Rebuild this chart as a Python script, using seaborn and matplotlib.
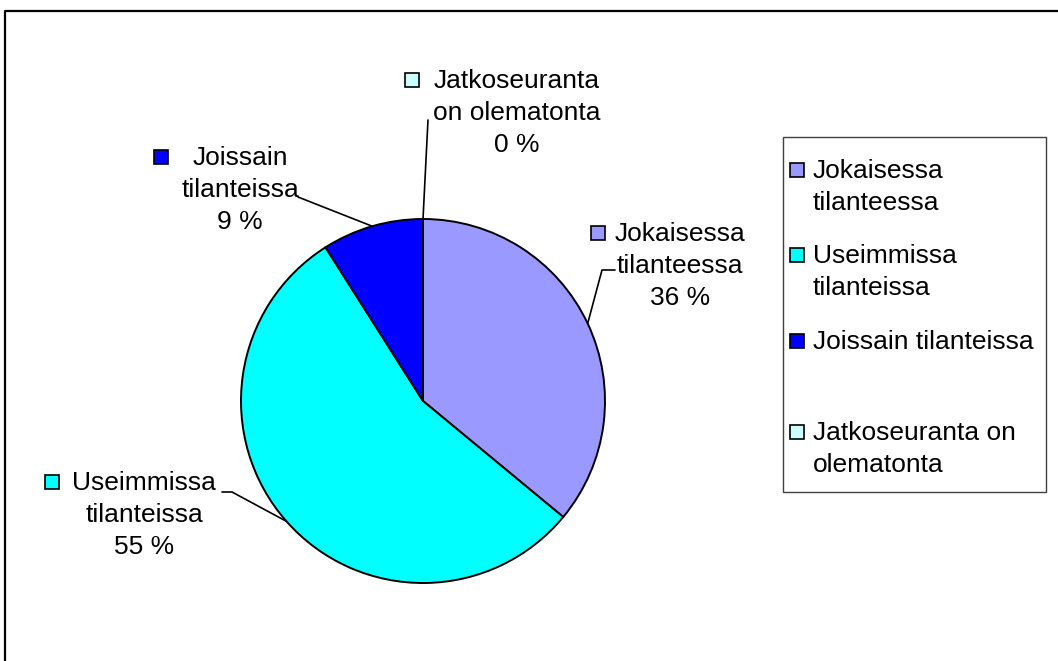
import numpy as np
import matplotlib.pyplot as plt
from matplotlib.patches import Rectangle
import seaborn as sns

# data
categories = ["Jokaisessa tilanteessa", "Useimmissa tilanteissa",
              "Joissain tilanteissa", "Jatkoseuranta on olematonta"]
shares = [36, 55, 9, 0]
label_lines = [["Jokaisessa", "tilanteessa"], ["Useimmissa", "tilanteissa"],
               ["Joissain", "tilanteissa"], ["Jatkoseuranta", "on olematonta"]]
legend_lines = [["Jokaisessa", "tilanteessa"], ["Useimmissa", "tilanteissa"],
                ["Joissain tilanteissa"], ["Jatkoseuranta on", "olematonta"]]
colors = ["#9999FF", "#00FFFF", "#0000FF", "#CCFFFF"]

sns.set_theme(style="white")
plt.rcParams['font.family'] = ['Liberation Sans', 'DejaVu Sans']

W, H = 1058, 661
FS = 19
LS = 1.42
fig = plt.figure(figsize=(W / 100, H / 100), dpi=100)
ax = fig.add_axes([0, 0, 1, 1])

# pie (pixel coordinates, y pointing down -> counterclock=True draws clockwise)
cx, cy, r = 423, 401, 182
wedges, _ = ax.pie(shares, colors=colors, startangle=-90, counterclock=True,
                   center=(cx, cy), radius=r,
                   wedgeprops=dict(edgecolor='black', linewidth=1.4))
ax.set_xlim(0, W)
ax.set_ylim(H, 0)
ax.set_aspect('equal')
ax.axis('off')

# data labels: text centre x, first line y, key square x, leader elbow, leader end
label_layout = [
    dict(tx=680, ty=233, sx=598, elbow=(602, 270), end=(615, 270)),
    dict(tx=144, ty=482, sx=52, elbow=(232, 492), end=(222, 492)),
    dict(tx=240, ty=157, sx=161, elbow=None, end=(298, 197)),
    dict(tx=517, ty=80, sx=412, elbow=None, end=(428, 120)),
]
for w, lines, val, col, lay in zip(wedges, label_lines, shares, colors, label_layout):
    ang = np.deg2rad((w.theta1 + w.theta2) / 2)
    ax_, ay_ = cx + r * np.cos(ang), cy + r * np.sin(ang)
    pts = [(ax_, ay_)]
    if lay['elbow']:
        pts.append(lay['elbow'])
    pts.append(lay['end'])
    xs, ys = zip(*pts)
    ax.plot(xs, ys, color='black', lw=1.2, zorder=3)
    ax.text(lay['tx'], lay['ty'] - 11, "\n".join(lines + [f"{val} %"]),
            ha='center', va='top', multialignment='center',
            fontsize=FS, linespacing=LS, color='black')
    ax.plot(lay['sx'], lay['ty'], marker='s', ms=9.5, mfc=col, mec='black',
            mew=1.2, zorder=4)

# legend box
ax.add_patch(Rectangle((783, 137), 263, 355, fill=False, ec='#404040', lw=1,
                       zorder=2))
legend_y = [170, 255, 341, 432]
for lines, col, ly in zip(legend_lines, colors, legend_y):
    ax.plot(797, ly, marker='s', ms=9.5, mfc=col, mec='black', mew=1.2)
    ax.text(813, ly - 11, "\n".join(lines), ha='left', va='top',
            fontsize=FS, linespacing=LS, color='black')

# outer chart frame (only top and left visible)
ax.plot([5, 5, W], [H, 11, 11], color='black', lw=1.6, clip_on=False)

fig.savefig("out.png", dpi=100)
